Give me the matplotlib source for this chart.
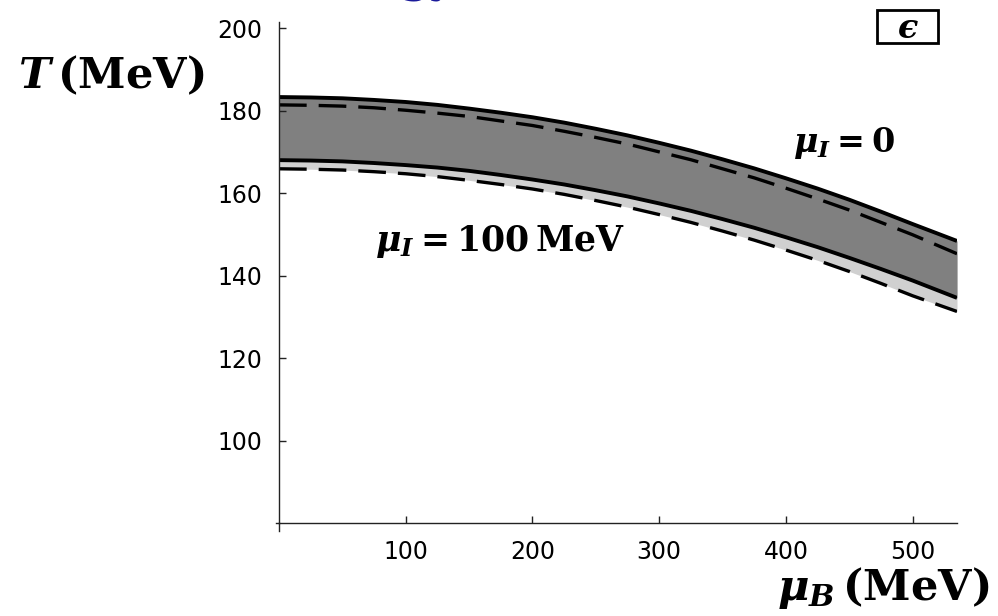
import matplotlib
matplotlib.use("Agg")
import matplotlib.pyplot as plt
from matplotlib.patches import Rectangle

# ---- data ----
mu_B = [0, 25, 50, 75, 100, 125, 150, 175, 200, 225, 250, 275, 300,
        325, 350, 375, 400, 425, 450, 475, 500, 535]
T_upper_muI0 = [183.3, 183.2, 183.0, 182.6, 182.1, 181.4, 180.5, 179.5, 178.4, 177.1, 175.6,
                174.0, 172.2, 170.3, 168.2, 166.0, 163.6, 161.1, 158.4, 155.5, 152.5, 148.4]
T_lower_muI0 = [168.0, 167.9, 167.7, 167.3, 166.8, 166.2, 165.4, 164.4, 163.3, 162.1, 160.7,
                159.2, 157.5, 155.7, 153.7, 151.6, 149.3, 146.9, 144.3, 141.6, 138.8, 134.6]
T_upper_muI100 = [181.4, 181.3, 181.1, 180.7, 180.1, 179.4, 178.6, 177.5, 176.4, 175.0, 173.5,
                  171.9, 170.0, 168.1, 165.9, 163.7, 161.2, 158.6, 155.9, 152.9, 149.9, 145.3]
T_lower_muI100 = [165.9, 165.8, 165.6, 165.2, 164.7, 164.0, 163.1, 162.1, 161.0, 159.7, 158.2,
                  156.6, 154.8, 152.9, 150.8, 148.6, 146.2, 143.7, 141.0, 138.1, 135.1, 131.3]
x_ticks = [100, 200, 300, 400, 500]
y_ticks = [100, 120, 140, 160, 180, 200]

plt.rcParams['mathtext.fontset'] = 'custom'
plt.rcParams['mathtext.rm'] = 'DejaVu Serif:bold'
plt.rcParams['mathtext.it'] = 'DejaVu Serif:italic:bold'
plt.rcParams['mathtext.bf'] = 'DejaVu Serif:bold'

W, H = 998, 616
fig = plt.figure(figsize=(W / 100, H / 100), dpi=100)
ax = fig.add_axes([279 / W, 1 - 523 / H, (957 - 279) / W, (523 - 22) / H])
ax.set_xlim(0, 535)
ax.set_ylim(80, 201.5)

ax.fill_between(mu_B, T_lower_muI100, T_upper_muI100, color='#d0d0d0', lw=0)
ax.fill_between(mu_B, T_lower_muI0, T_upper_muI0, color='#808080', lw=0)
ax.plot(mu_B, T_upper_muI0, color='black', lw=2.8, solid_capstyle='butt')
ax.plot(mu_B, T_lower_muI0, color='black', lw=2.8, solid_capstyle='butt')
ax.plot(mu_B, T_upper_muI100, color='black', lw=2.4, dashes=(8.3, 3.6))
ax.plot(mu_B, T_lower_muI100, color='black', lw=2.4, dashes=(8.3, 3.6))

for s in ['top', 'right']:
    ax.spines[s].set_visible(False)
for s in ['left', 'bottom']:
    ax.spines[s].set_linewidth(1.0)
    ax.spines[s].set_color('#222222')

ax.set_xticks(x_ticks)
ax.set_yticks(y_ticks)
ax.set_xticklabels([str(v) for v in x_ticks])
ax.set_yticklabels([str(v) for v in y_ticks])
ax.tick_params(axis='both', direction='in', length=5, width=1, labelsize=17, color='#222222')
ax.tick_params(axis='x', pad=12)
ax.tick_params(axis='y', pad=12)

# small origin extensions (Mathematica-style axes crossing)
ax.plot([0, 0], [80, 80 - 8 / 4.13], color='#222222', lw=1, clip_on=False)
ax.plot([0, -3 / 1.268], [80, 80], color='#222222', lw=1, clip_on=False)

# axis labels
fig.text(18 / W, 1 - 88 / H, r'$T\,(\mathrm{MeV})$', fontsize=31, ha='left', va='baseline')
fig.text(990 / W, 1 - 600 / H, r'$\mu_B\,(\mathrm{MeV})$', fontsize=31, ha='right', va='baseline')

# curve annotations
fig.text(793 / W, 1 - 152 / H, r'$\mu_I=0$', fontsize=24, ha='left', va='baseline')
fig.text(375 / W, 1 - 251 / H, r'$\mu_I=100\,\mathrm{MeV}$', fontsize=25, ha='left', va='baseline')

# panel label
fig.patches.append(Rectangle((877 / W, 1 - 43 / H), 61 / W, 33 / H, transform=fig.transFigure,
                             fill=False, ec='black', lw=2))
fig.text(908 / W, 1 - 28 / H, '$\u03f5$', fontsize=24, ha='center', va='center')

# cut-off blue title fragment at top
fig.text(427 / W, 1 + 8 / H, 'gy', color='#1a1a9a', fontsize=30, ha='center', va='baseline',
         family='DejaVu Serif', weight='bold')

fig.savefig('out.png', dpi=100)
